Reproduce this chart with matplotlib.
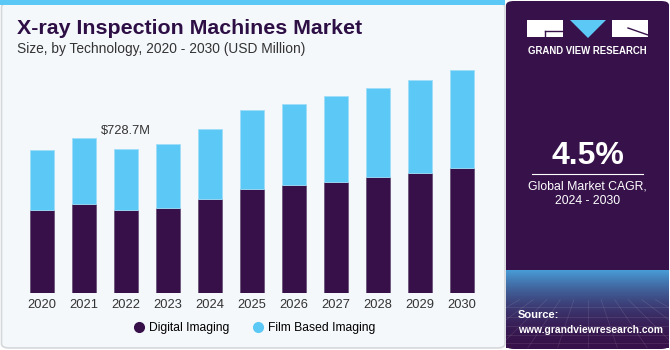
import matplotlib
matplotlib.use("Agg")
import matplotlib.pyplot as plt
import numpy as np
from matplotlib.patches import FancyBboxPatch, Rectangle, Polygon
from matplotlib.lines import Line2D

years = ["2020", "2021", "2022", "2023", "2024", "2025", "2026", "2027", "2028", "2029", "2030"]
digital = [420.9, 452.8, 419.4, 432.6, 476.7, 527.4, 546.1, 564.4, 586.7, 608.5, 633.9]
film = [304.3, 333.2, 309.3, 323.0, 354.9, 399.1, 412.3, 433.1, 451.3, 471.5, 495.1]
series_names = ["Digital Imaging", "Film Based Imaging"]
annot_idx = 2
annot_text = "$728.7M"
cagr = "4.5%"

W, H = 670, 350
DIG = "#37104A"
FILM = "#5BC8F5"
BG = "#F4F8FB"
PANEL = "#37124A"

fig = plt.figure(figsize=(W / 100, H / 100), dpi=100)
fig.patch.set_facecolor("white")

def fx(x):
    return x / W

def fy(y):
    return 1 - y / H

# left panel background
bg = FancyBboxPatch((fx(1.5), fy(348)), fx(505) - fx(1.5), fy(3) - fy(348),
                    boxstyle="round,pad=0,rounding_size=0.012", transform=fig.transFigure,
                    facecolor=BG, edgecolor="#D5D8DB", linewidth=1.2, zorder=0)
fig.patches.append(bg)
fig.patches.append(Rectangle((0, fy(5)), fx(505), fy(0) - fy(5), transform=fig.transFigure,
                             facecolor=FILM, edgecolor="none", zorder=1))

# right panel
panel = FancyBboxPatch((fx(506), fy(349)), fx(669) - fx(506), fy(1) - fy(349),
                       boxstyle="round,pad=0,rounding_size=0.012", transform=fig.transFigure,
                       facecolor=PANEL, edgecolor="none", zorder=1)
fig.patches.append(panel)

# gradient at panel bottom
gax = fig.add_axes([fx(506), fy(348), fx(669) - fx(506), fy(270) - fy(348)], zorder=2)
gax.set_axis_off()
grad = np.linspace(1, 0, 100)[:, None]
c0 = np.array([0x37, 0x12, 0x4A]) / 255
c1 = np.array([0x48, 0x9C, 0xD6]) / 255
t = grad[:, :, None] ** 1.9
img = c0[None, None, :] * (1 - t) + c1[None, None, :] * t
img = np.repeat(img, 10, axis=1)
gax.imshow(img, aspect="auto", extent=[0, 1, 0, 1], zorder=0)
for i in range(-6, 19):
    gax.plot([i / 12, 0.5 + (i / 12 - 0.5) * 2.2], [0.62, 0], color="white", alpha=0.12, lw=0.5)
for yy in [0.07, 0.17, 0.28, 0.40, 0.52]:
    gax.plot([0, 1], [yy, yy], color="white", alpha=0.12, lw=0.5)
gax.set_xlim(0, 1)
gax.set_ylim(0, 1)

# logo
fig.patches.append(Rectangle((fx(527), fy(37)), fx(36), fy(20) - fy(37), transform=fig.transFigure,
                             facecolor="white", edgecolor="none", zorder=3))
fig.patches.append(Polygon([(fx(570), fy(20)), (fx(606), fy(20)), (fx(588), fy(38))],
                           closed=True, transform=fig.transFigure, facecolor=FILM, edgecolor="none", zorder=3))
fig.patches.append(Rectangle((fx(612), fy(37)), fx(36), fy(20) - fy(37), transform=fig.transFigure,
                             facecolor="white", edgecolor="none", zorder=3))
fig.lines.append(Line2D([fx(545), fx(562)], [fy(31), fy(31)], transform=fig.transFigure,
                        color=PANEL, lw=1, zorder=4))
fig.lines.append(Line2D([fx(545), fx(545)], [fy(31), fy(37)], transform=fig.transFigure,
                        color=PANEL, lw=1, zorder=4))
fig.lines.append(Line2D([fx(628), fx(648)], [fy(28), fy(35)], transform=fig.transFigure,
                        color=PANEL, lw=1, zorder=4))
fig.text(fx(587.5), fy(51), "GRAND VIEW RESEARCH", color="white", fontsize=6.9, fontweight="bold",
         family="Liberation Sans", ha="center", va="center", zorder=5)

fig.text(fx(587.5), fy(155.5), cagr, color="white", fontsize=23, fontweight="bold",
         family="Liberation Sans", ha="center", va="center", zorder=5)
fig.lines.append(Line2D([fx(532), fx(643)], [fy(173.5), fy(173.5)], transform=fig.transFigure,
                        color="white", lw=0.8, zorder=5))
fig.text(fx(587.5), fy(186), "Global Market CAGR,", color="white", fontsize=8.8,
         family="Liberation Sans", ha="center", va="center", zorder=5)
fig.text(fx(587.5), fy(201), "2024 - 2030", color="white", fontsize=8.8,
         family="Liberation Sans", ha="center", va="center", zorder=5)
fig.text(fx(518), fy(315.5), "Source:", color="white", fontsize=8, fontweight="bold",
         family="Liberation Sans", ha="left", va="center", zorder=5)
fig.text(fx(518), fy(330), "www.grandviewresearch.com", color="white", fontsize=7.4, fontweight="bold",
         family="Liberation Sans", ha="left", va="center", zorder=5)

# titles
fig.text(fx(17), fy(28), "X-ray Inspection Machines Market", color="#2E0F45", fontsize=15.4,
         fontweight="bold", family="Liberation Sans", ha="left", va="center", zorder=5)
fig.text(fx(17), fy(49), "Size, by Technology, 2020 - 2030 (USD Million)", color="#333333", fontsize=9.9,
         family="Liberation Sans", ha="left", va="center", zorder=5)

# bar axes
scale = 728.7 / 143.7
ymax = 240 * scale
ax = fig.add_axes([fx(21), fy(293), fx(483) - fx(21), fy(53) - fy(293)], zorder=5)
ax.set_facecolor("none")
x = np.arange(len(years))
ax.bar(x, digital, width=0.57, color=DIG, edgecolor="#6A5478", linewidth=0.6, label=series_names[0], zorder=2)
ax.bar(x, film, width=0.57, bottom=digital, color=FILM, edgecolor="#9FDDF8", linewidth=0.6,
       label=series_names[1], zorder=2)
ax.set_xlim(-0.5, len(years) - 0.5)
ax.set_ylim(0, ymax)
ax.set_xticks(x)
ax.set_xticklabels(years, fontsize=9.3, color="#333333", family="Liberation Sans")
ax.tick_params(axis="x", length=0, pad=4)
ax.set_yticks([])
for s in ax.spines.values():
    s.set_visible(False)

tot = digital[annot_idx] + film[annot_idx]
ax.text(annot_idx, tot + 18 * scale, annot_text, ha="center", va="center", fontsize=9.3,
        color="#333333", family="Liberation Sans")

# legend
handles = [Line2D([0], [0], marker="o", color="none", markerfacecolor=DIG, markeredgecolor="none", markersize=8),
           Line2D([0], [0], marker="o", color="none", markerfacecolor=FILM, markeredgecolor="none", markersize=8)]
leg = fig.legend(handles, series_names, loc="center", bbox_to_anchor=(fx(254), fy(328)), ncol=2, frameon=False,
                 prop={"family": "Liberation Sans", "size": 8.7}, handletextpad=0.3, columnspacing=1.9,
                 handlelength=1.0)
leg.set_zorder(6)

fig.savefig("out.png", dpi=100, facecolor=fig.get_facecolor())
